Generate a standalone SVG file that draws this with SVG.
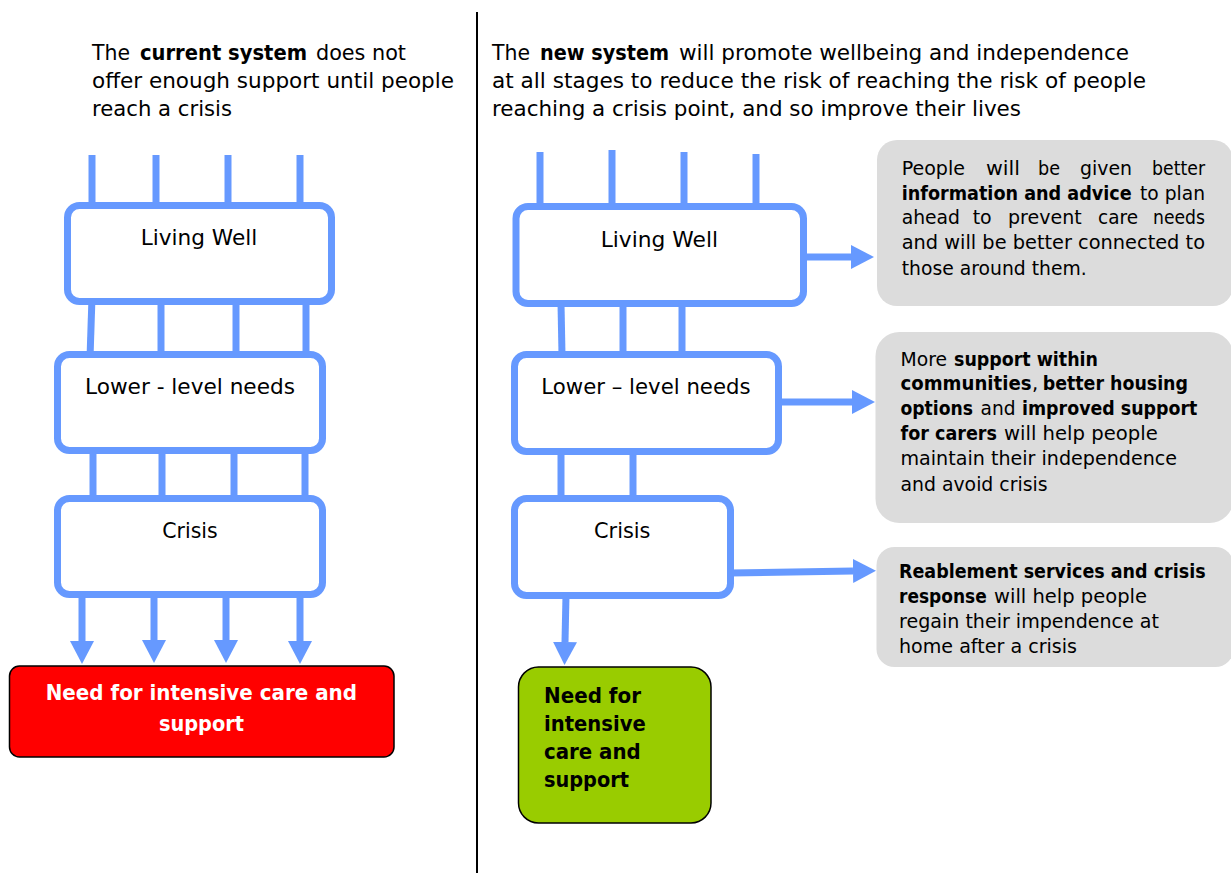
<svg xmlns="http://www.w3.org/2000/svg" width="1231" height="873" viewBox="0 0 1231 873">
<style>
.t{font-family:"DejaVu Sans",Verdana,sans-serif;fill:#000}
.h{font-size:22px}
.l{font-size:21.5px}
.g{font-size:19.5px}
.b{font-weight:bold}
.w{fill:#fff}
.c{stroke:#6699FF;stroke-width:7;fill:none}
.box{fill:#fff;stroke:#6699FF;stroke-width:7}
.gray{fill:#DCDCDC}
</style>
<defs>
<marker id="ah" markerUnits="userSpaceOnUse" markerWidth="24" markerHeight="24" refX="0" refY="12" orient="auto" viewBox="0 0 24 24">
<path d="M0,0 L23,12 L0,24 z" fill="#6699FF"/>
</marker>
</defs>
<rect width="1231" height="873" fill="#fff"/>
<line x1="477" y1="12" x2="477" y2="873" stroke="#000" stroke-width="2"/>

<g id="header-left">
<text class="t h" x="92" y="60" textLength="38" lengthAdjust="spacingAndGlyphs">The</text>
<text class="t h b" x="140" y="60" textLength="167" lengthAdjust="spacingAndGlyphs">current system</text>
<text class="t h" x="316" y="60" textLength="90" lengthAdjust="spacingAndGlyphs">does not</text>
<text class="t h" x="92" y="88" textLength="362" lengthAdjust="spacingAndGlyphs">offer enough support until people</text>
<text class="t h" x="92" y="116" textLength="140" lengthAdjust="spacingAndGlyphs">reach a crisis</text>
</g>
<g id="header-right">
<text class="t h" x="492" y="60" textLength="38" lengthAdjust="spacingAndGlyphs">The</text>
<text class="t h b" x="540" y="60" textLength="129" lengthAdjust="spacingAndGlyphs">new system</text>
<text class="t h" x="679" y="60" textLength="450" lengthAdjust="spacingAndGlyphs">will promote wellbeing and independence</text>
<text class="t h" x="492" y="88" textLength="654" lengthAdjust="spacingAndGlyphs">at all stages to reduce the risk of reaching the risk of people</text>
<text class="t h" x="492" y="116" textLength="529" lengthAdjust="spacingAndGlyphs">reaching a crisis point, and so improve their lives</text>
</g>

<g id="connectors">
<line class="c" x1="92" y1="155" x2="92" y2="206"/>
<line class="c" x1="156" y1="155" x2="156" y2="206"/>
<line class="c" x1="228" y1="155" x2="228" y2="206"/>
<line class="c" x1="300" y1="155" x2="300" y2="206"/>
<line class="c" x1="92" y1="297" x2="90" y2="358"/>
<line class="c" x1="161" y1="300" x2="161" y2="355"/>
<line class="c" x1="236" y1="300" x2="236" y2="355"/>
<line class="c" x1="306" y1="300" x2="306" y2="355"/>
<line class="c" x1="93" y1="450" x2="93" y2="499"/>
<line class="c" x1="162" y1="450" x2="162" y2="499"/>
<line class="c" x1="234" y1="450" x2="234" y2="499"/>
<line class="c" x1="305" y1="450" x2="305" y2="499"/>
<line class="c" x1="82" y1="594" x2="82" y2="641" marker-end="url(#ah)"/>
<line class="c" x1="154" y1="594" x2="154" y2="640" marker-end="url(#ah)"/>
<line class="c" x1="226" y1="594" x2="226" y2="640" marker-end="url(#ah)"/>
<line class="c" x1="300" y1="594" x2="300" y2="641" marker-end="url(#ah)"/>
<line class="c" x1="540" y1="152" x2="540" y2="207"/>
<line class="c" x1="612" y1="150" x2="612" y2="207"/>
<line class="c" x1="684" y1="152" x2="684" y2="207"/>
<line class="c" x1="756" y1="154" x2="756" y2="207"/>
<line class="c" x1="561" y1="303" x2="562" y2="355"/>
<line class="c" x1="623" y1="303" x2="623" y2="355"/>
<line class="c" x1="682" y1="303" x2="682" y2="355"/>
<line class="c" x1="561" y1="451" x2="561" y2="499"/>
<line class="c" x1="633" y1="451" x2="633" y2="499"/>
<line class="c" x1="803" y1="257" x2="851" y2="257" stroke-width="8" marker-end="url(#ah)"/>
<line class="c" x1="778" y1="402" x2="852" y2="402" stroke-width="8" marker-end="url(#ah)"/>
<line class="c" x1="730" y1="573" x2="853" y2="571" stroke-width="8" marker-end="url(#ah)"/>
<line class="c" x1="566" y1="595" x2="565" y2="642" marker-end="url(#ah)"/>
</g>

<g id="living-well-current">
<rect class="box" x="67.5" y="205.5" width="264" height="96" rx="12"/>
<text class="t l" x="140.7" y="245" textLength="116.6" lengthAdjust="spacingAndGlyphs">Living Well</text>
</g>
<g id="lower-level-current">
<rect class="box" x="57.5" y="354.5" width="265" height="96" rx="12"/>
<text class="t l" x="85" y="394" textLength="210" lengthAdjust="spacingAndGlyphs">Lower - level needs</text>
</g>
<g id="crisis-current">
<rect class="box" x="57.5" y="498.5" width="265" height="96" rx="12"/>
<text class="t l" x="162.3" y="538" textLength="55.4" lengthAdjust="spacingAndGlyphs">Crisis</text>
</g>
<g id="intensive-current">
<rect x="9.5" y="666" width="384.5" height="91" rx="10" fill="#FF0000" stroke="#000" stroke-width="1.5"/>
<text class="t l b w" x="45.7" y="700" textLength="311.3" lengthAdjust="spacingAndGlyphs">Need for intensive care and</text>
<text class="t l b w" x="159" y="731" textLength="85" lengthAdjust="spacingAndGlyphs">support</text>
</g>

<g id="living-well-new">
<rect class="box" x="516" y="206.5" width="287.5" height="97" rx="12"/>
<text class="t l" x="600.7" y="246.5" textLength="117.3" lengthAdjust="spacingAndGlyphs">Living Well</text>
</g>
<g id="lower-level-new">
<rect class="box" x="514.5" y="354.5" width="264" height="97" rx="12"/>
<text class="t l" x="541.3" y="394" textLength="209.3" lengthAdjust="spacingAndGlyphs">Lower – level needs</text>
</g>
<g id="crisis-new">
<rect class="box" x="514.5" y="498.5" width="216" height="97" rx="12"/>
<text class="t l" x="594" y="538" textLength="56.5" lengthAdjust="spacingAndGlyphs">Crisis</text>
</g>
<g id="intensive-new">
<rect x="518.5" y="667" width="192.5" height="156" rx="20" fill="#99CC00" stroke="#000" stroke-width="1.5"/>
<text class="t l b" x="544" y="703" textLength="97" lengthAdjust="spacingAndGlyphs">Need for</text>
<text class="t l b" x="544" y="731" textLength="101.7" lengthAdjust="spacingAndGlyphs">intensive</text>
<text class="t l b" x="544" y="759" textLength="96.7" lengthAdjust="spacingAndGlyphs">care and</text>
<text class="t l b" x="544" y="787" textLength="85" lengthAdjust="spacingAndGlyphs">support</text>
</g>

<g id="info-advice">
<rect class="gray" x="877" y="140" width="356" height="166" rx="20"/>
<text class="t g" x="901.7" y="175" textLength="63.3" lengthAdjust="spacingAndGlyphs">People</text>
<text class="t g" x="986" y="175" textLength="34" lengthAdjust="spacingAndGlyphs">will</text>
<text class="t g" x="1038" y="175" textLength="22" lengthAdjust="spacingAndGlyphs">be</text>
<text class="t g" x="1080" y="175" textLength="52" lengthAdjust="spacingAndGlyphs">given</text>
<text class="t g" x="1152" y="175" textLength="53" lengthAdjust="spacingAndGlyphs">better</text>
<text class="t g b" x="901.7" y="200" textLength="230" lengthAdjust="spacingAndGlyphs">information and advice</text>
<text class="t g" x="1140" y="200" textLength="65" lengthAdjust="spacingAndGlyphs">to plan</text>
<text class="t g" x="901.7" y="224" textLength="58.3" lengthAdjust="spacingAndGlyphs">ahead</text>
<text class="t g" x="972.7" y="224" textLength="19" lengthAdjust="spacingAndGlyphs">to</text>
<text class="t g" x="1008" y="224" textLength="73.7" lengthAdjust="spacingAndGlyphs">prevent</text>
<text class="t g" x="1098" y="224" textLength="40" lengthAdjust="spacingAndGlyphs">care</text>
<text class="t g" x="1153" y="224" textLength="52" lengthAdjust="spacingAndGlyphs">needs</text>
<text class="t g" x="901.7" y="249" textLength="303.3" lengthAdjust="spacingAndGlyphs">and will be better connected to</text>
<text class="t g" x="901.7" y="275" textLength="185" lengthAdjust="spacingAndGlyphs">those around them.</text>
</g>
<g id="community-support">
<rect class="gray" x="875.5" y="332" width="358" height="191" rx="24"/>
<text class="t g" x="900.5" y="366" textLength="46.5" lengthAdjust="spacingAndGlyphs">More</text>
<text class="t g b" x="954" y="366" textLength="144" lengthAdjust="spacingAndGlyphs">support within</text>
<text class="t g b" x="900.5" y="390" textLength="131" lengthAdjust="spacingAndGlyphs">communities</text>
<text class="t g" x="1032" y="390">,</text>
<text class="t g b" x="1042.7" y="390" textLength="145.3" lengthAdjust="spacingAndGlyphs">better housing</text>
<text class="t g b" x="900.5" y="415" textLength="72.5" lengthAdjust="spacingAndGlyphs">options</text>
<text class="t g" x="980.5" y="415" textLength="35" lengthAdjust="spacingAndGlyphs">and</text>
<text class="t g b" x="1022" y="415" textLength="175.4" lengthAdjust="spacingAndGlyphs">improved support</text>
<text class="t g b" x="900.5" y="440" textLength="96.5" lengthAdjust="spacingAndGlyphs">for carers</text>
<text class="t g" x="1004" y="440" textLength="153.7" lengthAdjust="spacingAndGlyphs">will help people</text>
<text class="t g" x="900.5" y="465" textLength="276.5" lengthAdjust="spacingAndGlyphs">maintain their independence</text>
<text class="t g" x="900.5" y="491" textLength="147" lengthAdjust="spacingAndGlyphs">and avoid crisis</text>
</g>
<g id="reablement">
<rect class="gray" x="876.5" y="547" width="357" height="120" rx="18"/>
<text class="t g b" x="899" y="578" textLength="306.6" lengthAdjust="spacingAndGlyphs">Reablement services and crisis</text>
<text class="t g b" x="899" y="603" textLength="87.7" lengthAdjust="spacingAndGlyphs">response</text>
<text class="t g" x="994" y="603" textLength="153" lengthAdjust="spacingAndGlyphs">will help people</text>
<text class="t g" x="899" y="628" textLength="260" lengthAdjust="spacingAndGlyphs">regain their impendence at</text>
<text class="t g" x="899" y="653" textLength="178" lengthAdjust="spacingAndGlyphs">home after a crisis</text>
</g>
</svg>
